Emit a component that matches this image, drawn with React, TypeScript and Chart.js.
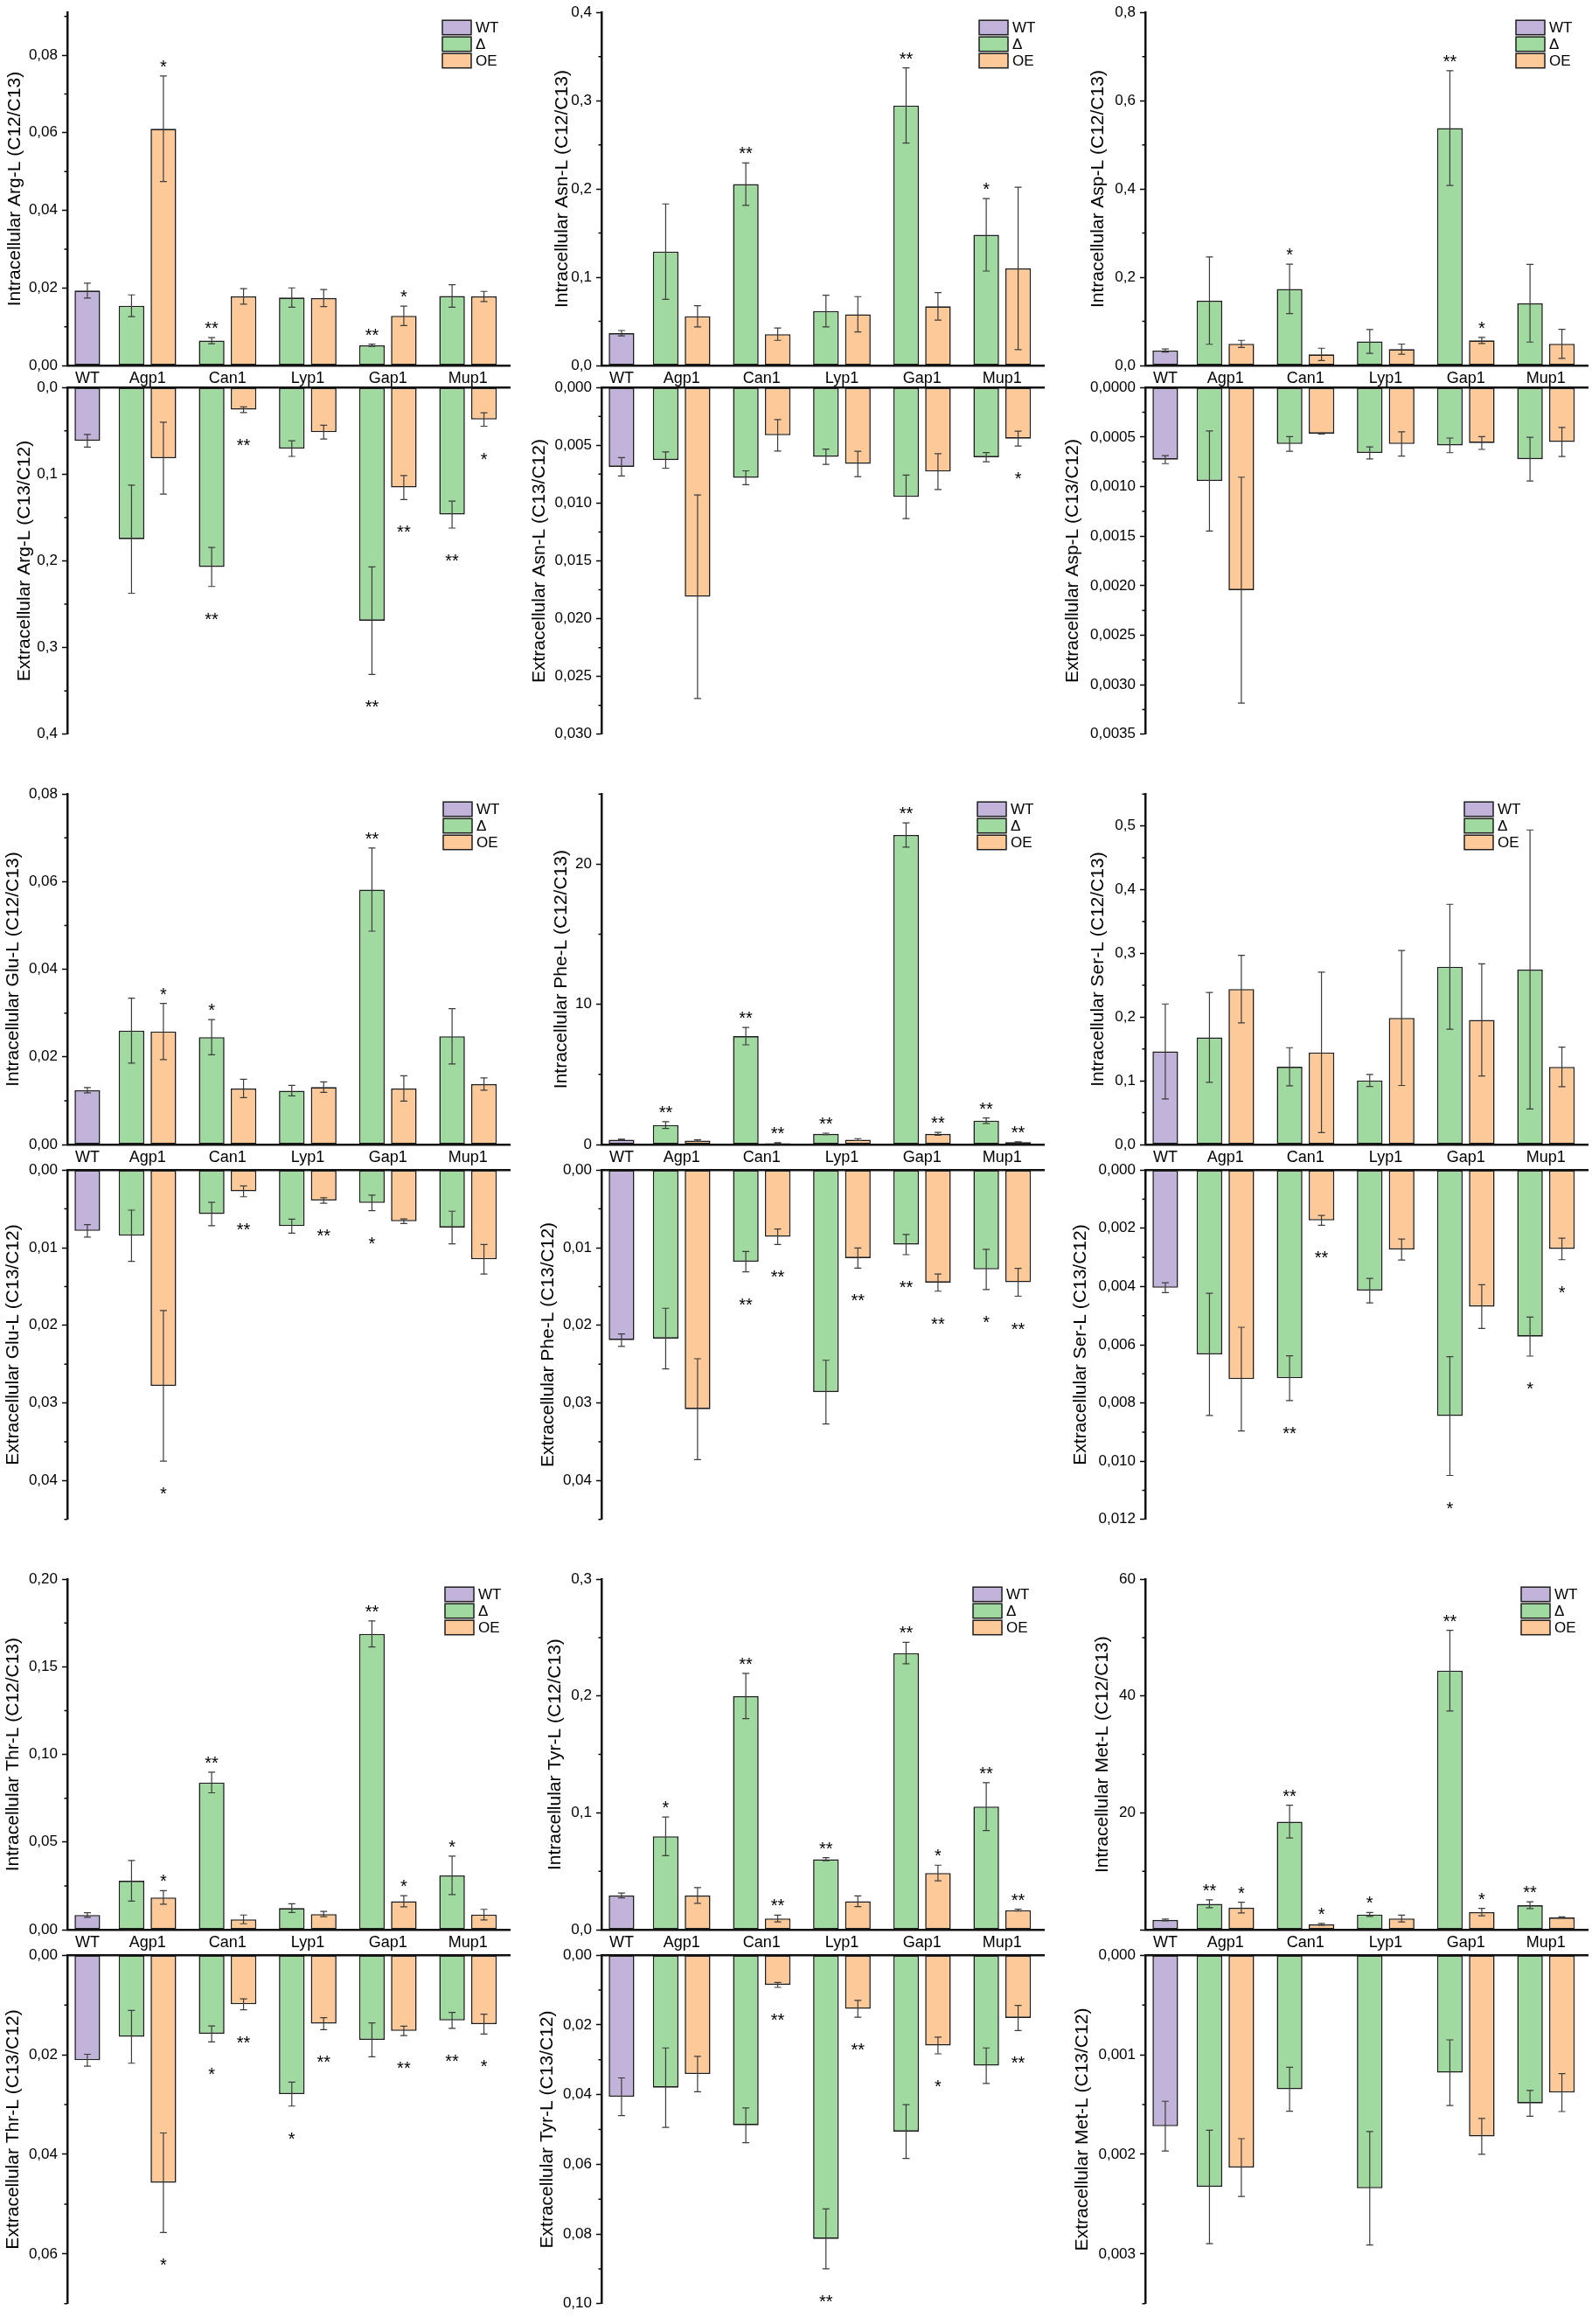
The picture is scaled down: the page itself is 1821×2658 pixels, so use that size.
import React, { useEffect, useRef } from "react";
import { Chart, registerables } from "chart.js";

Chart.register(...registerables);
Chart.defaults.font.family = "'Liberation Sans', Arial, sans-serif";
Chart.defaults.color = "#000";

// categories on the x axis
const WT_LABEL = "WT";
const GENES = ["Agp1", "Can1", "Lyp1", "Gap1", "Mup1"];
// group positions in category units (WT sits closer to the axis)
const WT_POS = 0.25;
const GENE_POS = [1, 2, 3, 4, 5];
const X_MAX = 5.52;
const SERIES = ["WT", "Δ", "OE"];

// every entry: [mean, sd, significance]; WT: [mean, sd]
type Bar = [number, number, string] | null;

// Arg-L
const argInWT = [0.0193, 0.0019];
const argInDelta: Bar[] = [[0.0154, 0.0028, ""], [0.0064, 0.0008, "**"], [0.0175, 0.0025, ""], [0.0052, 0.0003, "**"], [0.0179, 0.0029, ""]];
const argInOE: Bar[] = [[0.061, 0.0136, "*"], [0.0178, 0.002, ""], [0.0174, 0.0022, ""], [0.0128, 0.0025, "*"], [0.0178, 0.0013, ""]];
const argOutWT = [0.0615, 0.0073];
const argOutDelta: Bar[] = [[0.175, 0.0623, ""], [0.207, 0.0225, "**"], [0.0705, 0.009, ""], [0.269, 0.062, "**"], [0.1466, 0.0156, "**"]];
const argOutOE: Bar[] = [[0.0815, 0.0415, ""], [0.0256, 0.0033, "**"], [0.0515, 0.008, ""], [0.1154, 0.0138, "**"], [0.0369, 0.0078, "*"]];

// Asn-L
const asnInWT = [0.0366, 0.003];
const asnInDelta: Bar[] = [[0.129, 0.054, ""], [0.2055, 0.024, "**"], [0.0617, 0.018, ""], [0.2945, 0.0426, "**"], [0.148, 0.041, "*"]];
const asnInOE: Bar[] = [[0.0557, 0.012, ""], [0.0355, 0.007, ""], [0.058, 0.02, ""], [0.067, 0.0156, ""], [0.11, 0.092, ""]];
const asnOutWT = [0.00686, 0.0008];
const asnOutDelta: Bar[] = [[0.00628, 0.0007, ""], [0.00781, 0.0006, ""], [0.00599, 0.00066, ""], [0.00946, 0.00188, ""], [0.00603, 0.0004, ""]];
const asnOutOE: Bar[] = [[0.0181, 0.0088, ""], [0.00413, 0.00136, ""], [0.00661, 0.0011, ""], [0.00727, 0.00155, ""], [0.00442, 0.00064, "*"]];

// Asp-L
const aspInWT = [0.0338, 0.0035];
const aspInDelta: Bar[] = [[0.147, 0.099, ""], [0.1735, 0.056, "*"], [0.0546, 0.027, ""], [0.538, 0.13, "**"], [0.141, 0.088, ""]];
const aspInOE: Bar[] = [[0.049, 0.008, ""], [0.0251, 0.014, ""], [0.037, 0.0115, ""], [0.0568, 0.007, "*"], [0.049, 0.033, ""]];
const aspOutWT = [0.000728, 0.00004];
const aspOutDelta: Bar[] = [[0.000943, 0.000505, ""], [0.00057, 0.000074, ""], [0.00066, 0.00006, ""], [0.000584, 0.000074, ""], [0.000723, 0.00022, ""]];
const aspOutOE: Bar[] = [[0.002045, 0.00114, ""], [0.000465, 0.000005, ""], [0.00057, 0.000122, ""], [0.00056, 0.000065, ""], [0.00055, 0.000147, ""]];

// Glu-L
const gluInWT = [0.0124, 0.0006];
const gluInDelta: Bar[] = [[0.026, 0.0074, ""], [0.0245, 0.004, "*"], [0.0123, 0.0012, ""], [0.0582, 0.0095, "**"], [0.0247, 0.0063, ""]];
const gluInOE: Bar[] = [[0.0258, 0.0064, "*"], [0.0128, 0.0021, ""], [0.0131, 0.0012, ""], [0.0128, 0.0029, ""], [0.0138, 0.0014, ""]];
const gluOutWT = [0.00784, 0.0008];
const gluOutDelta: Bar[] = [[0.00846, 0.0033, ""], [0.00566, 0.0015, ""], [0.00722, 0.0009, ""], [0.00423, 0.001, "*"], [0.0074, 0.0021, ""]];
const gluOutOE: Bar[] = [[0.0278, 0.0097, "*"], [0.00274, 0.0007, "**"], [0.00392, 0.00035, "**"], [0.0066, 0.0003, ""], [0.0115, 0.0019, ""]];

// Phe-L
const pheInWT = [0.35, 0.03];
const pheInDelta: Bar[] = [[1.39, 0.24, "**"], [7.73, 0.62, "**"], [0.76, 0.05, "**"], [22.08, 0.87, "**"], [1.7, 0.2, "**"]];
const pheInOE: Bar[] = [[0.28, 0.05, ""], [0.1, 0.03, "**"], [0.35, 0.07, ""], [0.76, 0.1, "**"], [0.17, 0.03, "**"]];
const pheOutWT = [0.0219, 0.0008];
const pheOutDelta: Bar[] = [[0.0217, 0.0039, ""], [0.0118, 0.0013, "**"], [0.0286, 0.0041, ""], [0.0096, 0.0013, "**"], [0.0128, 0.0026, "*"]];
const pheOutOE: Bar[] = [[0.0308, 0.0065, ""], [0.0086, 0.001, "**"], [0.01134, 0.0013, "**"], [0.0145, 0.0011, "**"], [0.01445, 0.0018, "**"]];

// Ser-L
const serInWT = [0.146, 0.0746];
const serInDelta: Bar[] = [[0.168, 0.0705, ""], [0.122, 0.03, ""], [0.1005, 0.0095, ""], [0.279, 0.098, ""], [0.2747, 0.219, ""]];
const serInOE: Bar[] = [[0.244, 0.053, ""], [0.1446, 0.126, ""], [0.1986, 0.106, ""], [0.1956, 0.088, ""], [0.1218, 0.031, ""]];
const serOutWT = [0.00404, 0.00017];
const serOutDelta: Bar[] = [[0.00633, 0.0021, ""], [0.00715, 0.00077, "**"], [0.00414, 0.00042, ""], [0.00845, 0.00204, "*"], [0.00572, 0.00067, "*"]];
const serOutOE: Bar[] = [[0.00718, 0.00178, ""], [0.00173, 0.00017, "**"], [0.00273, 0.00036, ""], [0.00469, 0.00075, ""], [0.00271, 0.00037, "*"]];

// Thr-L
const thrInWT = [0.00837, 0.0013];
const thrInDelta: Bar[] = [[0.0279, 0.0116, ""], [0.084, 0.0059, "**"], [0.0123, 0.0025, ""], [0.1688, 0.0074, "**"], [0.031, 0.011, "*"]];
const thrInOE: Bar[] = [[0.0184, 0.0039, "*"], [0.00586, 0.0025, ""], [0.0089, 0.0015, ""], [0.0162, 0.0032, "*"], [0.0086, 0.003, ""]];
const thrOutWT = [0.0211, 0.0012];
const thrOutDelta: Bar[] = [[0.0164, 0.0053, ""], [0.0158, 0.0016, "*"], [0.0279, 0.0024, "*"], [0.017, 0.0034, ""], [0.0131, 0.0016, "**"]];
const thrOutOE: Bar[] = [[0.0457, 0.01, "*"], [0.00985, 0.0011, "**"], [0.01376, 0.0012, "**"], [0.0152, 0.00095, "**"], [0.01385, 0.002, "*"]];

// Tyr-L
const tyrInWT = [0.0293, 0.0021];
const tyrInDelta: Bar[] = [[0.0799, 0.0165, "*"], [0.2, 0.0194, "**"], [0.0603, 0.0013, "**"], [0.2368, 0.0092, "**"], [0.1054, 0.0205, "**"]];
const tyrInOE: Bar[] = [[0.0293, 0.0067, ""], [0.0096, 0.0029, "**"], [0.0243, 0.0046, ""], [0.0485, 0.0067, "*"], [0.0167, 0.0008, "**"]];
const tyrOutWT = [0.0406, 0.0054];
const tyrOutDelta: Bar[] = [[0.038, 0.0114, ""], [0.0488, 0.005, ""], [0.0814, 0.0086, "**"], [0.0506, 0.0077, ""], [0.0317, 0.0051, ""]];
const tyrOutOE: Bar[] = [[0.0341, 0.0051, ""], [0.00853, 0.0007, "**"], [0.01538, 0.0024, "**"], [0.0259, 0.0024, "*"], [0.018, 0.0036, "**"]];

// Met-L
const metInWT = [1.67, 0.15];
const metInDelta: Bar[] = [[4.43, 0.67, "**"], [18.5, 2.8, "**"], [2.6, 0.33, "*"], [44.35, 6.9, "**"], [4.18, 0.58, "**"]];
const metInOE: Bar[] = [[3.77, 0.92, "*"], [0.92, 0.15, "*"], [1.92, 0.58, ""], [3.01, 0.63, "*"], [2.09, 0.1, ""]];
const metOutWT = [0.001717, 0.00025];
const metOutDelta: Bar[] = [[0.002327, 0.00057, ""], [0.001346, 0.00022, ""], [0.002341, 0.00057, ""], [0.00118, 0.00033, ""], [0.001488, 0.00013, ""]];
const metOutOE: Bar[] = [[0.002132, 0.00029, ""], null, null, [0.00182, 0.00018, ""], [0.00138, 0.00019, ""]];

const C_WT = "#c1b3da";
const C_DELTA = "#a0daa0";
const C_OE = "#fdc998";
const BAR_BORDER = "#1e1e1e";
const ERR_COLOR = "#3c3c3c";
const FONT = "'Liberation Sans', Arial, sans-serif";

// page geometry
const AXIS_X = [77, 688, 1310];
const Y_AXIS_W = 100;
const PLOT_W = 506;
const PAD = 13;
const X_AXIS_H = 26;
const ROWS = [
  { upTop: 12, upZero: 418, loZero: 441, loBottom: 842 },
  { upTop: 906, upZero: 1309, loZero: 1336, loBottom: 1740 },
  { upTop: 1804, upZero: 2207, loZero: 2234, loBottom: 2637 },
];

const PANELS = [
  { name: "Arg-L", col: 0, row: 0, inWT: argInWT, inDelta: argInDelta, inOE: argInOE, outWT: argOutWT, outDelta: argOutDelta, outOE: argOutOE,
    inAxis: { max: 0.091, step: 0.02, minor: 0.01, dec: 2 }, outAxis: { max: 0.4, step: 0.1, minor: 0.05, dec: 1 }, inTitle: 60, outTitle: 49, legendRight: 77 },
  { name: "Asn-L", col: 1, row: 0, inWT: asnInWT, inDelta: asnInDelta, inOE: asnInOE, outWT: asnOutWT, outDelta: asnOutDelta, outOE: asnOutOE,
    inAxis: { max: 0.4, step: 0.1, minor: 0.05, dec: 1 }, outAxis: { max: 0.03, step: 0.005, minor: 0.0025, dec: 3 }, inTitle: 45, outTitle: 71, legendRight: 74 },
  { name: "Asp-L", col: 2, row: 0, inWT: aspInWT, inDelta: aspInDelta, inOE: aspInOE, outWT: aspOutWT, outDelta: aspOutDelta, outOE: aspOutOE,
    inAxis: { max: 0.8, step: 0.2, minor: 0.1, dec: 1 }, outAxis: { max: 0.0035, step: 0.0005, minor: 0.00025, dec: 4 }, inTitle: 54, outTitle: 83, legendRight: 82 },
  { name: "Glu-L", col: 0, row: 1, inWT: gluInWT, inDelta: gluInDelta, inOE: gluInOE, outWT: gluOutWT, outDelta: gluOutDelta, outOE: gluOutOE,
    inAxis: { max: 0.08, step: 0.02, minor: 0.01, dec: 2 }, outAxis: { max: 0.045, step: 0.01, minor: 0.005, dec: 2 }, inTitle: 62, outTitle: 62, legendRight: 76 },
  { name: "Phe-L", col: 1, row: 1, inWT: pheInWT, inDelta: pheInDelta, inOE: pheInOE, outWT: pheOutWT, outDelta: pheOutDelta, outOE: pheOutOE,
    inAxis: { max: 25, step: 10, minor: 5, dec: 0 }, outAxis: { max: 0.045, step: 0.01, minor: 0.005, dec: 2 }, inTitle: 46, outTitle: 61, legendRight: 76 },
  { name: "Ser-L", col: 2, row: 1, inWT: serInWT, inDelta: serInDelta, inOE: serInOE, outWT: serOutWT, outDelta: serOutDelta, outOE: serOutOE,
    inAxis: { max: 0.55, step: 0.1, minor: 0.05, dec: 1 }, outAxis: { max: 0.012, step: 0.002, minor: 0.001, dec: 3 }, inTitle: 54, outTitle: 74, legendRight: 141 },
  { name: "Thr-L", col: 0, row: 2, inWT: thrInWT, inDelta: thrInDelta, inOE: thrInOE, outWT: thrOutWT, outDelta: thrOutDelta, outOE: thrOutOE,
    inAxis: { max: 0.2, step: 0.05, minor: 0.025, dec: 2 }, outAxis: { max: 0.07, step: 0.02, minor: 0.01, dec: 2 }, inTitle: 62, outTitle: 62, legendRight: 74 },
  { name: "Tyr-L", col: 1, row: 2, inWT: tyrInWT, inDelta: tyrInDelta, inOE: tyrInOE, outWT: tyrOutWT, outDelta: tyrOutDelta, outOE: tyrOutOE,
    inAxis: { max: 0.3, step: 0.1, minor: 0.05, dec: 1 }, outAxis: { max: 0.1, step: 0.02, minor: 0.01, dec: 2 }, inTitle: 53, outTitle: 62, legendRight: 81 },
  { name: "Met-L", col: 2, row: 2, inWT: metInWT, inDelta: metInDelta, inOE: metInOE, outWT: metOutWT, outDelta: metOutDelta, outOE: metOutOE,
    inAxis: { max: 60, step: 20, minor: 10, dec: 0, hideZero: true }, outAxis: { max: 0.0035, step: 0.001, minor: 0.0005, dec: 3 }, inTitle: 49, outTitle: 72, legendRight: 76 },
];

const fmt = (v: number, dec: number) => v.toFixed(dec).replace(".", ",");

// error bars + significance stars, drawn over the bars
const errorBars = {
  id: "errorBars",
  afterDatasetsDraw(chart: any, _a: any, opts: any) {
    const { ctx } = chart;
    const y = chart.scales.y;
    ctx.save();
    chart.data.datasets.forEach((ds: any, di: number) => {
      const meta = chart.getDatasetMeta(di);
      meta.data.forEach((el: any, i: number) => {
        const pt = ds.data[i];
        if (!pt || pt.y == null) return;
        const sd = ds.errors[i] || 0;
        const x = el.x;
        const yHi = y.getPixelForValue(pt.y + sd);
        const yLo = y.getPixelForValue(pt.y - sd);
        ctx.strokeStyle = ERR_COLOR;
        ctx.lineWidth = 1.2;
        ctx.beginPath();
        ctx.moveTo(x, yLo);
        ctx.lineTo(x, yHi);
        ctx.moveTo(x - 4, yLo);
        ctx.lineTo(x + 4, yLo);
        ctx.moveTo(x - 4, yHi);
        ctx.lineTo(x + 4, yHi);
        ctx.stroke();
        const mark = ds.marks[i];
        if (mark) {
          ctx.fillStyle = "#000";
          ctx.font = `20px ${FONT}`;
          ctx.textAlign = "center";
          ctx.textBaseline = "alphabetic";
          ctx.fillText(mark, x, opts.below ? yHi + 44 : yHi - 4);
        }
      });
    });
    ctx.restore();
  },
};

const minorTicks = {
  id: "minorTicks",
  afterDraw(chart: any, _a: any, opts: any) {
    const { ctx } = chart;
    const y = chart.scales.y;
    ctx.save();
    ctx.strokeStyle = "#000";
    ctx.lineWidth = 1.5;
    ctx.beginPath();
    for (let k = 0; k * opts.step <= y.max + 1e-12; k++) {
      if (k % 2 === 0) continue;
      const py = y.getPixelForValue(k * opts.step);
      ctx.moveTo(y.right - 3.5, py);
      ctx.lineTo(y.right, py);
    }
    ctx.stroke();
    ctx.restore();
  },
};

const boxLegend = {
  id: "boxLegend",
  afterDraw(chart: any, _a: any, opts: any) {
    if (!opts.show) return;
    const { ctx, chartArea } = chart;
    const colors = [C_WT, C_DELTA, C_OE];
    const x0 = chartArea.right - opts.right;
    ctx.save();
    SERIES.forEach((label, k) => {
      const y0 = chartArea.top + 9 + k * 19;
      ctx.fillStyle = colors[k];
      ctx.fillRect(x0, y0, 33, 16.5);
      ctx.strokeStyle = BAR_BORDER;
      ctx.lineWidth = 1.5;
      ctx.strokeRect(x0, y0, 33, 16.5);
      ctx.fillStyle = "#000";
      ctx.font = `17px ${FONT}`;
      ctx.textAlign = "left";
      ctx.textBaseline = "middle";
      ctx.fillText(label, x0 + 38, y0 + 9);
    });
    ctx.restore();
  },
};

type Panel = (typeof PANELS)[number];

function series(rows: Bar[]) {
  return {
    data: GENE_POS.map((x, i) => ({ x, y: rows[i] ? rows[i]![0] : null })),
    errors: rows.map((r) => (r ? r[1] : 0)),
    marks: rows.map((r) => (r ? r[2] : "")),
  };
}

function PanelChart({ panel, part }: { panel: Panel; part: "in" | "out" }) {
  const canvasRef = useRef<HTMLCanvasElement | null>(null);
  const upper = part === "in";
  const geo = ROWS[panel.row];
  const left = AXIS_X[panel.col] - Y_AXIS_W;
  const width = Y_AXIS_W + PLOT_W + 2;
  const top = upper ? geo.upTop - PAD : geo.loZero - PAD;
  const height = upper ? PAD + (geo.upZero - geo.upTop) + X_AXIS_H : PAD + (geo.loBottom - geo.loZero) + PAD;

  useEffect(() => {
    if (!canvasRef.current) return;
    const wt = upper ? panel.inWT : panel.outWT;
    const delta = upper ? panel.inDelta : panel.outDelta;
    const oe = upper ? panel.inOE : panel.outOE;
    const axis: any = upper ? panel.inAxis : panel.outAxis;
    const titleOff = upper ? panel.inTitle : panel.outTitle;
    const title = upper ? `Intracellular ${panel.name} (C12/C13)` : `Extracellular ${panel.name} (C13/C12)`;

    const common = { borderColor: BAR_BORDER, borderWidth: 1.6, borderSkipped: false };
    const datasets: any[] = [
      {
        label: SERIES[0],
        data: [{ x: WT_POS, y: wt[0] }],
        errors: [wt[1]],
        marks: [""],
        backgroundColor: C_WT,
        grouped: false,
        categoryPercentage: 1,
        barPercentage: 0.426,
        ...common,
      },
      { label: SERIES[1], ...series(delta), backgroundColor: C_DELTA, categoryPercentage: 1.061, barPercentage: 0.804, ...common },
      { label: SERIES[2], ...series(oe), backgroundColor: C_OE, categoryPercentage: 1.061, barPercentage: 0.804, ...common },
    ];

    const xTicks = (scale: any) => {
      scale.ticks = [WT_POS, ...GENE_POS].map((v) => ({ value: v }));
    };

    const chart = new Chart(canvasRef.current, {
      type: "bar",
      data: { datasets },
      plugins: [errorBars, minorTicks, boxLegend],
      options: {
        responsive: false,
        animation: false,
        layout: { padding: { top: PAD, bottom: upper ? 0 : PAD, left: 0, right: 2 } },
        plugins: {
          legend: { display: false },
          tooltip: { enabled: false },
          errorBars: { below: !upper },
          minorTicks: { step: axis.minor },
          boxLegend: { show: upper, right: panel.legendRight },
        } as any,
        scales: {
          x: {
            type: "linear",
            position: upper ? "bottom" : "top",
            min: 0,
            max: X_MAX,
            offset: false,
            afterBuildTicks: xTicks,
            afterFit: (scale: any) => {
              scale.height = upper ? X_AXIS_H : 0;
            },
            grid: { display: false, drawTicks: false, offset: false },
            border: { display: true, color: "#111", width: 2.5 },
            ticks: {
              display: upper,
              autoSkip: false,
              maxRotation: 0,
              padding: 4,
              color: "#000",
              font: { size: 18 },
              callback: (_v: any, i: number) => [WT_LABEL, ...GENES][i],
            },
          },
          y: {
            type: "linear",
            min: 0,
            max: axis.max,
            reverse: !upper,
            afterBuildTicks: (scale: any) => {
              const ticks = [];
              for (let k = 0; k * axis.step <= axis.max + 1e-12; k++) {
                ticks.push({ value: Math.round(k * axis.step * 1e9) / 1e9 });
              }
              scale.ticks = ticks;
            },
            afterFit: (scale: any) => {
              scale.width = Y_AXIS_W;
            },
            grid: { drawOnChartArea: false, drawTicks: true, tickLength: 6, tickWidth: 1.5, tickColor: "#000" },
            border: { display: true, color: "#111", width: 2.5 },
            ticks: {
              autoSkip: false,
              padding: 5,
              color: "#000",
              font: { size: 17 },
              callback: (v: any) => (axis.hideZero && v === 0 ? "" : fmt(Number(v), axis.dec)),
            },
            title: {
              display: true,
              text: title,
              color: "#000",
              font: { size: 21 },
              padding: { top: Y_AXIS_W - titleOff - 12.6, bottom: 0 },
            },
          },
        },
      } as any,
    });

    return () => {
      chart.destroy();
    };
  }, [panel, upper]);

  return (
    <div style={{ position: "absolute", left, top, width, height }}>
      <canvas ref={canvasRef} width={width} height={height} style={{ width, height, display: "block" }} />
    </div>
  );
}

export default function App() {
  return (
    <div style={{ position: "absolute", left: 0, top: 0, width: 1821, height: 2658, background: "#fff", overflow: "hidden" }}>
      {PANELS.map((p) => (
        <React.Fragment key={p.name}>
          <PanelChart panel={p} part="in" />
          <PanelChart panel={p} part="out" />
        </React.Fragment>
      ))}
    </div>
  );
}
